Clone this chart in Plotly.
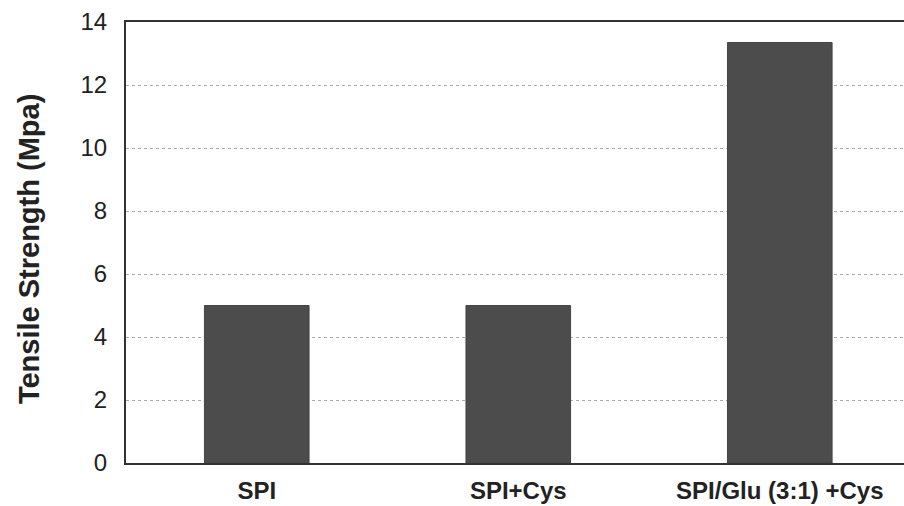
import plotly.graph_objects as go

# Tensile strength of soy protein isolate films
categories = ["SPI", "SPI+Cys", "SPI/Glu (3:1) +Cys"]
tensile_strength = [5.0, 5.0, 13.35]
y_ticks = [0, 2, 4, 6, 8, 10, 12, 14]

fig = go.Figure()
fig.add_trace(go.Bar(
    x=categories,
    y=tensile_strength,
    width=0.40,
    marker=dict(color="#4c4c4c", line=dict(width=1, color="#444444")),
))

W, H = 904, 506
L, R, T, B = 126, 0, 22, 43

fig.update_layout(
    width=W, height=H,
    margin=dict(l=L, r=R, t=T, b=B),
    paper_bgcolor="white",
    plot_bgcolor="white",
    showlegend=False,
    font=dict(family="Liberation Sans, Arial, sans-serif", color="#222222"),
)

fig.update_xaxes(
    range=[-0.5, 2.475],
    automargin=False,
    showgrid=False,
    showline=True, linecolor="#333333", linewidth=2,
    mirror=True,
    ticks="outside", ticklen=0, tickcolor="white",
    ticklabelstandoff=5,
    tickfont=dict(size=24, family="Liberation Sans, Arial, sans-serif", color="#222222", weight="bold"),
)

fig.update_yaxes(
    range=[0, 14],
    automargin=False,
    tickvals=y_ticks,
    ticktext=[str(v) for v in y_ticks],
    showgrid=True, gridcolor="#ababab", griddash="dot", gridwidth=1,
    showline=True, linecolor="#333333", linewidth=2,
    ticks="outside", ticklen=0, tickcolor="white",
    ticklabelstandoff=12,
    tickfont=dict(size=24, family="Liberation Sans, Arial, sans-serif", color="#222222"),
    zeroline=False,
)

fig.add_annotation(
    text="<b>Tensile Strength (Mpa)</b>",
    xref="paper", yref="paper",
    x=(29 - L) / (W - L - R), y=0.485,
    xanchor="center", yanchor="middle",
    textangle=-90, showarrow=False,
    font=dict(size=29, family="Liberation Sans, Arial, sans-serif", color="#222222"),
)

fig.write_html("out.html")
